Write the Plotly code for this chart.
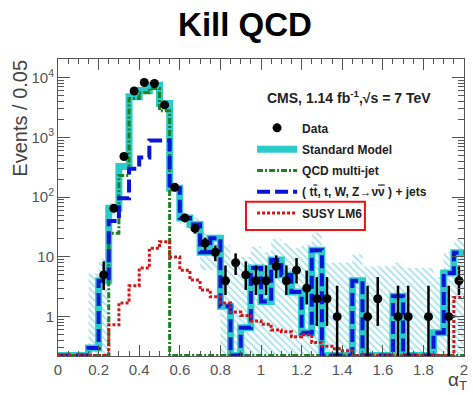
import plotly.graph_objects as go

# alpha_T binning: 40 bins of width 0.05 between 0 and 2
edges = [0.00, 0.05, 0.10, 0.15, 0.20, 0.25, 0.30, 0.35, 0.40, 0.45,
         0.50, 0.55, 0.60, 0.65, 0.70, 0.75, 0.80, 0.85, 0.90, 0.95,
         1.00, 1.05, 1.10, 1.15, 1.20, 1.25, 1.30, 1.35, 1.40, 1.45,
         1.50, 1.55, 1.60, 1.65, 1.70, 1.75, 1.80, 1.85, 1.90, 1.95, 2.00]

# observed events per bin (None = empty bin)
data = [None, None, None, None, 5, 65, 480, 6000, 8300, 8000,
        3500, 146, 45, 30, 17, 12, 4, 8, 5, 4,
        4, 7, 4, 6, 3, 2, 2, 1, None, None,
        1, 2, None, 1, 1, None, 1, None, 1, 4]
data_lo = [None, None, None, None, 2.8, 57, 458, 5923, 8209, 7911,
           3441, 134, 38.5, 24.5, 12.9, 8.5, 2.3, 5.0, 2.8, 2.3,
           2.3, 4.4, 2.3, 3.6, 1.6, 0.7, 0.7, 0.17, None, None,
           0.17, 0.7, None, 0.17, 0.17, None, 0.17, None, 0.17, 2.3]
data_hi = [None, None, None, None, 8.4, 73, 502, 6077, 8391, 8089,
           3559, 158, 52, 35.5, 21.1, 15.5, 7.2, 11.5, 8.4, 7.2,
           7.2, 10.6, 7.2, 9.6, 5.9, 4.6, 4.6, 3.3, None, None,
           3.3, 4.6, None, 3.3, 3.3, None, 3.3, None, 3.3, 7.2]

# Standard Model total prediction and its uncertainty band
sm = [0, 0, 0, 0.3, 4, 65, 326, 4800, 6100, 7500,
      3700, 141, 45, 35, 12, 20.5, 1.5, 0, 0.65, 6.5,
      1.8, 8.9, 5, 2.6, 0.54, 13, 0, 0, 0, 4,
      0, 0, 0, 2.2, 0, 0, 0, 0.54, 5.4, 11.7]
sm_lo = [0, 0, 0, 0, 0, 50, 290, 4400, 5600, 6900,
         3350, 120, 36, 26, 6, 6, 0, 0, 0, 0,
         0, 0, 0, 0, 0, 0, 0, 0, 0, 0,
         0, 0, 0, 0, 0, 0, 0, 0, 0, 0]
sm_hi = [0, 0, 0, 5.3, 9.3, 80, 365, 5250, 6650, 8150,
         4100, 165, 56, 46, 26, 24, 16, 9.6, 10, 15,
         12, 20, 17, 14, 16, 26, 8, 8, 8, 11,
         7, 7, 7, 8, 6.5, 6.5, 6.5, 4.6, 12, 20]

# QCD multi-jet component
qcd = [0, 0, 0, 0, 0, 25, 230, 4500, 5600, 6600,
       2800, 0, 0, 0, 0, 0, 0, 0, 0, 0,
       0, 0, 0, 0, 0, 0, 0, 0, 0, 0,
       0, 0, 0, 0, 0, 0, 0, 0, 0, 0]

# electroweak (ttbar, single top, W, Z->nunu) + jets component
ewk = [0, 0, 0, 0.3, 4, 40, 96, 300, 460, 890,
       890, 141, 45, 35, 12, 20.5, 1.5, 0, 0.65, 6.5,
       1.8, 8.9, 5, 2.6, 0.54, 13, 0, 0, 0, 4,
       0, 0, 0, 2.2, 0, 0, 0, 0.54, 5.4, 11.7]

# SUSY benchmark LM6
susy = [0, 0, 0, 0, 0, 0.73, 1.7, 3.3, 6.5, 14,
        18, 10, 6, 4.1, 2.8, 2.15, 1.7, 1.2, 1.05, 0.85,
        0.75, 0.6, 0.56, 0.46, 0.5, 0.37, 0.32, 0.29, 0.27, 0,
        0, 0, 0, 0, 0, 0, 0, 0, 0, 2.1]

Y_MIN_LOG = -0.658   # bottom of the log axis (~0.22 events)
Y_MAX_LOG = 4.313
FLOOR = 0.225        # empty bins are drawn along the bottom of the frame
FONT = "Liberation Sans, Arial"


def step(values):
    """Histogram outline: two points per bin, empty bins pinned to the floor."""
    xs, ys = [], []
    for i, v in enumerate(values):
        v = v if v and v > FLOOR else FLOOR
        xs += [edges[i], edges[i + 1]]
        ys += [v, v]
    return xs, ys


centers = [(edges[i] + edges[i + 1]) / 2 for i in range(len(data))]

fig = go.Figure()

# hatched uncertainty band of the Standard Model
hx, hy = step(sm_hi)
lx, ly = step(sm_lo)
fig.add_trace(go.Scatter(
    x=hx + lx[::-1], y=hy + ly[::-1], mode="lines", fill="toself",
    line=dict(width=0, color="rgba(0,0,0,0)"),
    fillcolor="rgba(0,0,0,0)",
    fillpattern=dict(shape="\\", fgcolor="#5cc9dc", bgcolor="rgba(255,255,255,0)",
                     size=5, solidity=0.4),
    hoverinfo="skip", showlegend=False))

sx, sy = step(sm)
fig.add_trace(go.Scatter(x=sx, y=sy, mode="lines", name="Standard Model",
                         legendgroup="sm",
                         line=dict(color="#2ccbcb", width=7), legendrank=2))

qx, qy = step(qcd)
fig.add_trace(go.Scatter(x=qx, y=qy, mode="lines", name="QCD multi-jet",
                         legendgroup="qcd",
                         line=dict(color="#1f7f24", width=3, dash="6px,2px,2px,2px"),
                         legendrank=3))

ex, ey = step(ewk)
fig.add_trace(go.Scatter(x=ex, y=ey, mode="lines", legendgroup="ewk",
                         name="( t<span style='text-decoration:overline'>t</span>, t, W, Z→ν<span style='text-decoration:overline'>ν</span> ) + jets",
                         line=dict(color="#0a14d6", width=4, dash="13px,5px"),
                         legendrank=4))

ux, uy = step(susy)
fig.add_trace(go.Scatter(x=ux, y=uy, mode="lines", name="SUSY LM6",
                         legendgroup="susy",
                         line=dict(color="#d41515", width=3, dash="3px,2px"),
                         legendrank=5))

# data points with asymmetric Poisson error bars
px, py, ep, em = [], [], [], []
for c, n, lo, hi in zip(centers, data, data_lo, data_hi):
    if n is None:
        continue
    px.append(c)
    py.append(n)
    ep.append(hi - n)
    em.append(n - lo)
fig.add_trace(go.Scatter(
    x=px, y=py, mode="markers", name="Data", legendgroup="data",
    marker=dict(color="black", size=9),
    error_y=dict(type="data", symmetric=False, array=ep, arrayminus=em,
                 color="black", thickness=2.5, width=0),
    legendrank=1))

axis_font = dict(family=FONT, size=15, color="#555555")
y_major = [1, 10, 100, 1000, 10000]
y_minor = [m * 10 ** k for k in range(-1, 5) for m in range(2, 10)]

fig.update_layout(
    width=473, height=395,
    margin=dict(l=58, r=5, t=59, b=39),
    paper_bgcolor="white", plot_bgcolor="white",
    font=dict(family=FONT, color="#222222"),
    title=dict(text="<b>Kill QCD</b>", x=0.518, xref="container",
               y=0.937, yanchor="middle", xanchor="center",
               font=dict(size=33, color="black", family=FONT)),
    showlegend=True,
    legend=dict(x=0.478, y=0.817, xanchor="left", yanchor="top",
                bgcolor="rgba(0,0,0,0)",
                font=dict(size=12, color="#222222",
                          family="Liberation Sans Narrow, Liberation Sans, Arial",
                          weight="bold"),
                traceorder="grouped", itemwidth=40, tracegroupgap=2.3),
    xaxis=dict(range=[0, 2], dtick=0.2, tick0=0, ticks="inside", ticklen=11,
               tickcolor="#555", showgrid=False, zeroline=False,
               showline=True, linecolor="#555", linewidth=1, mirror="allticks",
               tickfont=axis_font,
               minor=dict(dtick=0.05, ticks="inside", ticklen=5, tickcolor="#555")),
    yaxis=dict(type="log", range=[Y_MIN_LOG, Y_MAX_LOG],
               tickvals=y_major,
               ticktext=["1", "10", "10<sup>2</sup>", "10<sup>3</sup>", "10<sup>4</sup>"],
               ticks="inside", ticklen=12, tickcolor="#555",
               showgrid=False, zeroline=False, showline=True, linecolor="#555",
               linewidth=1, mirror="allticks", tickfont=axis_font,
               minor=dict(tickvals=y_minor, ticks="inside", ticklen=6, tickcolor="#555")),
)

fig.add_annotation(text="Events / 0.05", xref="paper", yref="paper",
                   x=-0.093, y=0.80, textangle=-90, showarrow=False,
                   xanchor="center", yanchor="middle",
                   font=dict(size=20, color="#444444"))
fig.add_annotation(text="α<sub>T</sub>", xref="paper", yref="paper",
                   x=0.985, y=-0.085, showarrow=False, xanchor="center",
                   yanchor="middle", font=dict(size=19, color="#444444"))
fig.add_annotation(text="<b>CMS, 1.14 fb<sup>-1</sup>,√s = 7 TeV</b>",
                   xref="paper", yref="paper", x=0.51, y=0.872,
                   showarrow=False, xanchor="left", yanchor="middle",
                   font=dict(size=14, color="#222222"))

# frame around the SUSY LM6 legend entry
fig.add_shape(type="rect", xref="paper", yref="paper",
              x0=0.463, x1=0.756, y0=0.424, y1=0.519,
              line=dict(color="#ee1111", width=2))

fig.write_html("out.html")
